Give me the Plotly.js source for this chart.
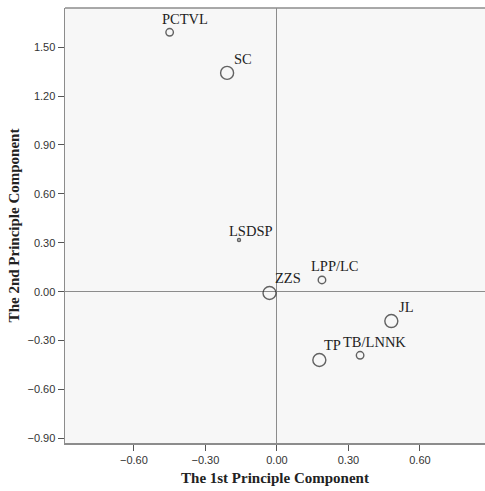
<!DOCTYPE html>
<html>
<head>
<meta charset="utf-8">
<script src="https://cdn.plot.ly/plotly-3.0.1.min.js"></script>
<style>html,body{margin:0;padding:0;background:#fff}#chart{width:485px;height:491px}</style>
</head>
<body>
<div id="chart"></div>
<script>
// Data
var labels = ["PCTVL", "SC", "LSDSP", "ZZS", "LPP/LC", "JL", "TP", "TB/LNNK"];
var pc1 = [-0.450, -0.209, -0.159, -0.031, 0.189, 0.480, 0.178, 0.349];
var pc2 = [1.591, 1.342, 0.317, -0.008, 0.072, -0.180, -0.419, -0.390];
var weight = [2, 3, 1, 3, 2, 3, 3, 2]; // relative marker size class
var tickVals = [-0.90, -0.60, -0.30, 0.00, 0.30, 0.60, 0.90, 1.20, 1.50];
var xTickVals = [-0.60, -0.30, 0.00, 0.30, 0.60];

// label placement (pixels) – style only
var labelDx = [-10, 5, -12.5, 3.7, -12.6, 6, 3, -19];
var labelDy = [13, 14, 9, 15.5, 13.5, 14.4, 15, 13.5];
var sizeMap = {1: 3, 2: 7.5, 3: 13};

var trace = {
  type: "scatter",
  mode: "markers",
  x: pc1,
  y: pc2,
  marker: {
    symbol: "circle-open",
    size: weight.map(function (w) { return sizeMap[w]; }),
    color: "#222",
    line: { width: 1.4, color: "#222" }
  },
  hoverinfo: "skip"
};

var annotations = labels.map(function (t, i) {
  return {
    x: pc1[i], y: pc2[i], xref: "x", yref: "y",
    text: t, showarrow: false,
    xanchor: "left", yanchor: "middle",
    xshift: labelDx[i], yshift: labelDy[i],
    font: { family: "Liberation Serif, Times New Roman, serif", size: 14.5, color: "#222" }
  };
});

var layout = {
  width: 485, height: 491,
  margin: { l: 65, r: 0, t: 8, b: 48 },
  paper_bgcolor: "#ffffff",
  plot_bgcolor: "#f7f7f7",
  showlegend: false,
  xaxis: {
    range: [-0.889, 0.873],
    tickvals: xTickVals,
    tickformat: ".2f",
    ticks: "outside", ticklen: 6, tickwidth: 1, tickcolor: "#555",
    showgrid: false,
    zeroline: true, zerolinecolor: "#8c8c8c", zerolinewidth: 1,
    showline: true, linecolor: "#8c8c8c", linewidth: 1.5,
    tickfont: { family: "Liberation Sans, Arial, sans-serif", size: 11, color: "#333" },
    title: { text: "The 1st Principle Component", standoff: 8,
      font: { family: "Liberation Serif, Times New Roman, serif", size: 15, color: "#222", weight: "bold" } }
  },
  yaxis: {
    range: [-0.928, 1.740],
    tickvals: tickVals,
    tickformat: ".2f",
    ticks: "outside", ticklen: 6, tickwidth: 1, tickcolor: "#555",
    showgrid: false,
    zeroline: true, zerolinecolor: "#8c8c8c", zerolinewidth: 1,
    showline: true, linecolor: "#8c8c8c", linewidth: 1.5,
    tickfont: { family: "Liberation Sans, Arial, sans-serif", size: 11, color: "#333" },
    title: { text: "The 2nd Principle Component", standoff: 4,
      font: { family: "Liberation Serif, Times New Roman, serif", size: 15, color: "#222", weight: "bold" } }
  },
  shapes: [{
    type: "line", xref: "paper", yref: "paper", x0: 0, x1: 1, y0: 1, y1: 1,
    line: { color: "#8c8c8c", width: 1.5 }
  }],
  annotations: annotations
};

Plotly.newPlot("chart", [trace], layout, { displayModeBar: false, staticPlot: true });
</script>
</body>
</html>
